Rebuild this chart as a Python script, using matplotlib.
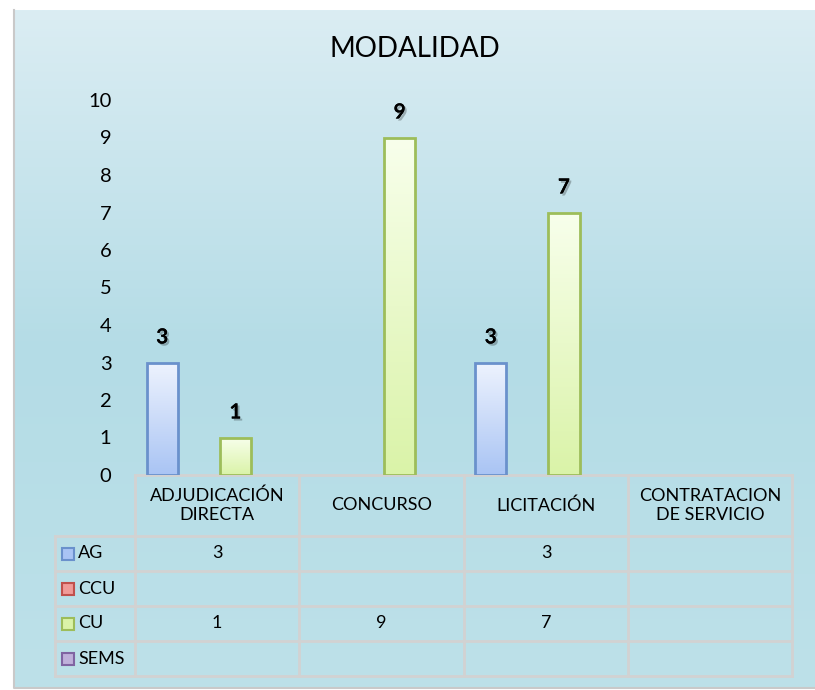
import matplotlib
matplotlib.use("Agg")
import matplotlib.pyplot as plt
import matplotlib.patheffects as pe
from matplotlib.patches import Rectangle
from matplotlib.colors import LinearSegmentedColormap
import numpy as np

plt.rcParams["font.family"] = ["Lato", "DejaVu Sans"]

# data
title = "MODALIDAD"
categories = ["ADJUDICACIÓN\nDIRECTA", "CONCURSO", "LICITACIÓN", "CONTRATACION\nDE SERVICIO"]
series = ["AG", "CCU", "CU", "SEMS"]
values = {
    "AG": [3, None, 3, None],
    "CCU": [None, None, None, None],
    "CU": [1, 9, 7, None],
    "SEMS": [None, None, None, None],
}
yticks = list(range(0, 11))

# style: (gradient top, gradient bottom, edge)
colors = {
    "AG": ("#eef3fe", "#a9c4f4", "#6a91cc"),
    "CCU": ("#fbe3e3", "#f09a98", "#c0504d"),
    "CU": ("#f8ffec", "#daf3a8", "#9dbd5a"),
    "SEMS": ("#ece6f5", "#bfb0da", "#8064a2"),
}

W, H = 815, 690
fig = plt.figure(figsize=(W / 100, H / 100), dpi=100)


def fx(px):
    return px / W


def fy(py):
    return 1 - py / H


# background gradient panel
bg = fig.add_axes([0, 0, 1, 1], zorder=-5)
bg.set_xlim(0, W); bg.set_ylim(H, 0); bg.axis("off")
grad = np.linspace(0, 1, 256).reshape(-1, 1)
bg_cmap = LinearSegmentedColormap.from_list("bg", ["#dbedf3", "#b4dce6", "#bde1e9"])
bg.imshow(grad, cmap=bg_cmap, extent=[14, W, 688, 10], aspect="auto")
bg.plot([14, 14, W], [10, 688, 688], color="#c9c9c9", lw=1.5)

# chart axes
x0, x1, ytop, ybot = 135, 792, 100, 475
ax = fig.add_axes([fx(x0), fy(ybot), fx(x1 - x0), (ybot - ytop) / H])
ax.set_facecolor("none")
for s in ax.spines.values():
    s.set_visible(False)
ax.set_xticks([])
ax.set_yticks(yticks)
ax.tick_params(axis="y", length=0, pad=17, labelsize=14.5)

slot = 0.2226
bw = 0.19
x = np.arange(len(categories))
for i, name in enumerate(series):
    vals = values[name]
    xs = [x[j] + (i - 1.5) * slot for j, v in enumerate(vals) if v is not None]
    hs = [v for v in vals if v is not None]
    if not hs:
        continue
    top, bottom, edge = colors[name]
    bars = ax.bar(xs, hs, width=bw, facecolor="none", edgecolor=edge, lw=2, zorder=3)
    cmap = LinearSegmentedColormap.from_list(name, [top, bottom])
    for b, v in zip(bars, hs):
        bx, by = b.get_x(), b.get_y()
        im = ax.imshow(grad, cmap=cmap, aspect="auto", zorder=2,
                       extent=[bx, bx + b.get_width(), by, by + b.get_height()])
        im.set_clip_path(b)
        ax.annotate(str(v), (bx + b.get_width() / 2, v), xytext=(0, 18),
                    textcoords="offset points", ha="center", va="center",
                    fontsize=15, fontweight="bold", zorder=4,
                    path_effects=[pe.withSimplePatchShadow(offset=(1.5, -1.5), alpha=0.25),
                                  pe.Normal()])
ax.set_xlim(-0.5, len(categories) - 0.5)
ax.set_ylim(0, 10)

# data table under the axes
col_edges = [135, 299, 464, 628, 792]
row_edges = [475, 536, 571, 606, 641, 676]
lbl_left = 55
grid_c = "#d2d2d2"
bg.plot([col_edges[0], col_edges[-1]], [row_edges[0]] * 2, color=grid_c, lw=2)
for ry in row_edges[1:]:
    bg.plot([lbl_left, col_edges[-1]], [ry, ry], color=grid_c, lw=2)
bg.plot([lbl_left, lbl_left], [row_edges[1], row_edges[-1]], color=grid_c, lw=2)
for cx in col_edges:
    bg.plot([cx, cx], [row_edges[0], row_edges[-1]], color=grid_c, lw=2)

for j, cat in enumerate(categories):
    cx = (col_edges[j] + col_edges[j + 1]) / 2
    cy = (row_edges[0] + row_edges[1]) / 2
    bg.text(cx, cy, cat, ha="center", va="center", fontsize=13,
            linespacing=1.2)

for i, name in enumerate(series):
    cy = (row_edges[i + 1] + row_edges[i + 2]) / 2
    top, bottom, edge = colors[name]
    bg.add_patch(Rectangle((62, cy - 6), 12, 12, facecolor=bottom,
                           edgecolor=edge, lw=1.5))
    bg.text(78, cy, name, ha="left", va="center", fontsize=13)
    for j, v in enumerate(values[name]):
        if v is None:
            continue
        cx = (col_edges[j] + col_edges[j + 1]) / 2
        bg.text(cx, cy, str(v), ha="center", va="center", fontsize=13)

fig.text(fx(415), fy(49), title, ha="center", va="center", fontsize=20)

fig.savefig("out.png", dpi=100)
plt.close(fig)
